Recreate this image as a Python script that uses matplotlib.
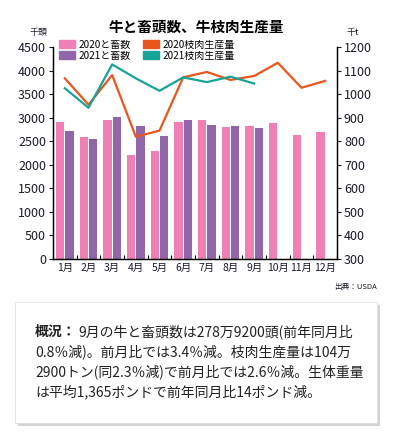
import matplotlib
matplotlib.use("Agg")
import matplotlib.pyplot as plt
from matplotlib.patches import Rectangle, Patch

plt.rcParams['font.family'] = ['Noto Sans CJK JP', 'DejaVu Sans']

PINK = "#ef80b5"
PURPLE = "#9066a8"
ORANGE = "#e8561c"
TEAL = "#16a398"
INK = "#1a1a2a"

months = ["1月", "2月", "3月", "4月", "5月", "6月", "7月", "8月", "9月", "10月", "11月", "12月"]
cattle_2020 = [2900, 2600, 2940, 2210, 2300, 2900, 2940, 2810, 2830, 2890, 2630, 2690]
cattle_2021 = [2720, 2550, 3020, 2830, 2610, 2950, 2850, 2830, 2790]
beef_2020 = [1067, 955, 1081, 819, 845, 1071, 1094, 1060, 1077, 1133, 1027, 1056]
beef_2021 = [1025, 942, 1126, 1067, 1014, 1071, 1051, 1074, 1045]

W, H = 393, 433
fig = plt.figure(figsize=(W / 100, H / 100), dpi=100)
ax = fig.add_axes([53 / W, 1 - 259 / H, (337 - 53) / W, (259 - 47) / H])
ax2 = ax.twinx()

x20 = list(range(1, len(cattle_2020) + 1))
x21 = list(range(1, len(cattle_2021) + 1))
bw = 0.36
ax.bar([x - 0.195 for x in x20], cattle_2020, width=bw, color=PINK, zorder=2)
ax.bar([x + 0.195 for x in x21], cattle_2021, width=bw, color=PURPLE, zorder=2)

ax2.plot(x20, beef_2020, color=ORANGE, lw=1.6, zorder=3)
ax2.plot(x21, beef_2021, color=TEAL, lw=1.6, zorder=3)

ax.set_xlim(0.5, 12.5)
ax.set_ylim(0, 4500)
ax.set_yticks(range(0, 4501, 500))
ax2.set_ylim(300, 1200)
ax2.set_yticks(range(300, 1201, 100))

ax.set_xticks(x20)
ax.set_xticklabels(months, fontsize=7.5, color=INK)
ax.set_xticks([i + 0.5 for i in range(0, 13)], minor=True)
ax.tick_params(axis="x", which="major", length=0, pad=3)
ax.tick_params(axis="x", which="minor", direction="in", length=3, width=0.8)
ax.tick_params(axis="y", labelsize=9, colors=INK, length=3, width=0.8, pad=2)
ax2.tick_params(axis="y", labelsize=9, colors=INK, length=3, width=0.8, pad=2)

for a in (ax, ax2):
    a.spines["top"].set_visible(False)
    for s in ("left", "right", "bottom"):
        a.spines[s].set_linewidth(0.9)
        a.spines[s].set_color("black")

handles = [Patch(color=PINK, label="2020と畜数"),
           Patch(color=PURPLE, label="2021と畜数"),
           Patch(color=ORANGE, label="2020枝肉生産量"),
           Patch(color=TEAL, label="2021枝肉生産量")]
ax2.legend(handles=handles, ncol=2, loc="upper left", bbox_to_anchor=(0.02, 1.035),
           frameon=False, fontsize=7.2, handlelength=1.6, handleheight=0.75,
           handletextpad=0.4, columnspacing=1.2, labelspacing=0.1,
           borderaxespad=0, borderpad=0)

fig.text(196 / W, 1 - 27 / H, "牛と畜頭数、牛枝肉生産量", ha="center", va="center",
         fontsize=10.5, weight="bold", color="black")
fig.text(38 / W, 1 - 33 / H, "千頭", ha="center", va="center", fontsize=6.5, color=INK)
fig.text(353 / W, 1 - 33 / H, "千t", ha="center", va="center", fontsize=6.5, color=INK)
fig.text(377 / W, 1 - 287 / H, "出典：USDA", ha="right", va="center", fontsize=5.5, color=INK)

# summary box with shadow
bx0, by0, bx1, by1 = 15, 302, 377, 423
fig.patches.append(Rectangle((bx0 / W + 3 / W, 1 - (by1 + 3) / H), (bx1 - bx0) / W, (by1 - by0) / H,
                             transform=fig.transFigure, facecolor="#b8b8b8", edgecolor="none",
                             alpha=0.6, zorder=0))
fig.patches.append(Rectangle((bx0 / W, 1 - by1 / H), (bx1 - bx0) / W, (by1 - by0) / H,
                             transform=fig.transFigure, facecolor="white", edgecolor="#dddddd",
                             lw=0.5, zorder=1))

lines = ["9月の牛と畜頭数は278万9200頭(前年同月比",
         "0.8％減)。前月比では3.4％減。枝肉生産量は104万",
         "2900トン(同2.3％減)で前月比では2.6％減。生体重量",
         "は平均1,365ポンドで前年同月比14ポンド減。"]
tx = 35 / W
head = fig.text(tx, 1 - 332 / H, "概況：", ha="left", va="center", fontsize=10,
                weight="bold", color="#222222", zorder=2)
fig.canvas.draw()
bb = head.get_window_extent()
x_after = (bb.x1 + 2) / W
for i, line in enumerate(lines):
    fig.text(x_after if i == 0 else tx, 1 - (332 + 20 * i) / H, line, ha="left", va="center",
             fontsize=10, color="#222222", zorder=2)

fig.savefig("out.png", dpi=100, facecolor="white")
